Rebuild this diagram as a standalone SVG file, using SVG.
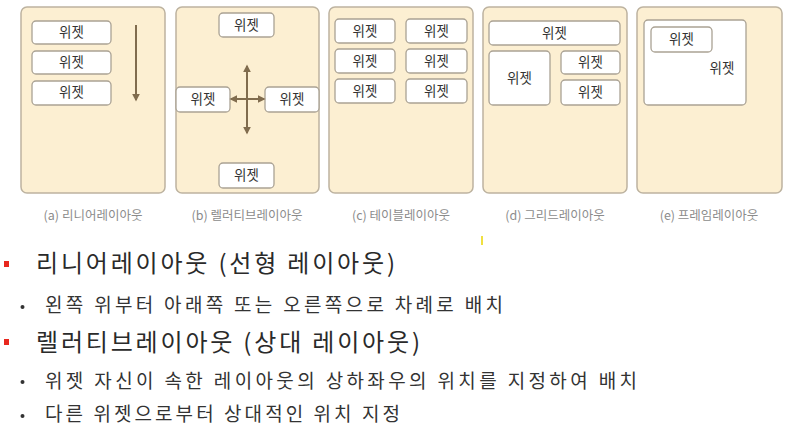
<svg xmlns="http://www.w3.org/2000/svg" width="790" height="438" viewBox="0 0 790 438">
<style>
.panel{fill:#fcefd2;stroke:#bdb3a0;stroke-width:1.5}
.w{fill:#ffffff;stroke:#aaa294;stroke-width:1.3}
.wt{font-family:"Noto Sans CJK KR","Noto Sans",sans-serif;font-size:13.5px;fill:#333333;text-anchor:middle}
.cap{font-family:"Noto Sans CJK KR","Noto Sans",sans-serif;font-size:12.5px;fill:#8c8c8c;text-anchor:middle}
.arr{stroke:#806c4e;stroke-width:2;fill:none}
.h1{font-family:"Noto Sans CJK KR","Noto Sans",sans-serif;font-size:24px;fill:#2a2a2a}
.h2{font-family:"Noto Sans CJK KR","Noto Sans",sans-serif;font-size:19px;fill:#333333}
.rb{fill:#e8281e}
.dot{fill:#333333}
</style>
<defs>
<marker id="ah" viewBox="0 0 10 10" refX="8" refY="5" markerWidth="4" markerHeight="4" orient="auto-start-reverse">
<path d="M0,0 L10,5 L0,10 z" fill="#806c4e"/>
</marker>
</defs>
<rect width="790" height="438" fill="#ffffff"/>

<g id="panel-a">
<rect class="panel" x="21" y="7" width="144" height="186" rx="6"/>
<rect class="w" x="32" y="21" width="79" height="23" rx="4"/><text class="wt" x="71.5" y="37">위젯</text>
<rect class="w" x="32" y="51" width="79" height="23" rx="4"/><text class="wt" x="71.5" y="67">위젯</text>
<rect class="w" x="32" y="81" width="79" height="24" rx="4"/><text class="wt" x="71.5" y="97">위젯</text>
<text class="cap" x="93" y="220">(a) 리니어레이아웃</text>
</g>

<g id="panel-b">
<rect class="panel" x="176" y="7" width="143" height="186" rx="6"/>
<rect class="w" x="219" y="13" width="55" height="24" rx="4"/><text class="wt" x="246.5" y="30">위젯</text>
<rect class="w" x="176" y="87" width="54" height="25" rx="4"/><text class="wt" x="203" y="104">위젯</text>
<rect class="w" x="265" y="87" width="54" height="25" rx="4"/><text class="wt" x="292" y="104">위젯</text>
<rect class="w" x="219" y="163" width="55" height="25" rx="4"/><text class="wt" x="246.5" y="180">위젯</text>
<text class="cap" x="247" y="220">(b) 렐러티브레이아웃</text>
</g>

<g id="panel-c">
<rect class="panel" x="329" y="7" width="144" height="186" rx="6"/>
<rect class="w" x="335" y="19" width="60" height="24" rx="4"/><text class="wt" x="365" y="36">위젯</text>
<rect class="w" x="406" y="19" width="61" height="24" rx="4"/><text class="wt" x="436.5" y="36">위젯</text>
<rect class="w" x="335" y="49" width="60" height="24" rx="4"/><text class="wt" x="365" y="66">위젯</text>
<rect class="w" x="406" y="49" width="61" height="24" rx="4"/><text class="wt" x="436.5" y="66">위젯</text>
<rect class="w" x="335" y="79" width="60" height="24" rx="4"/><text class="wt" x="365" y="96">위젯</text>
<rect class="w" x="406" y="79" width="61" height="24" rx="4"/><text class="wt" x="436.5" y="96">위젯</text>
<text class="cap" x="401" y="220">(c) 테이블레이아웃</text>
</g>

<g id="panel-d">
<rect class="panel" x="483" y="7" width="144" height="186" rx="6"/>
<rect class="w" x="489" y="21" width="131" height="24" rx="4"/><text class="wt" x="554.5" y="38">위젯</text>
<rect class="w" x="489" y="51" width="61" height="54" rx="4"/><text class="wt" x="519.5" y="83">위젯</text>
<rect class="w" x="561" y="51" width="59" height="23" rx="4"/><text class="wt" x="590.5" y="67">위젯</text>
<rect class="w" x="561" y="80" width="59" height="25" rx="4"/><text class="wt" x="590.5" y="97">위젯</text>
<text class="cap" x="555" y="220">(d) 그리드레이아웃</text>
</g>

<g id="panel-e">
<rect class="panel" x="637" y="7" width="145" height="186" rx="6"/>
<rect class="w" x="644" y="20" width="102" height="85" rx="4"/><text class="wt" x="722" y="73">위젯</text>
<rect class="w" x="651" y="27" width="61" height="25" rx="4"/><text class="wt" x="681.5" y="44">위젯</text>
<text class="cap" x="709" y="220">(e) 프레임레이아웃</text>
</g>

<g id="connectors">
<line class="arr" x1="136" y1="25" x2="136" y2="100" marker-end="url(#ah)"/>
<line class="arr" x1="247" y1="66" x2="247" y2="133" marker-start="url(#ah)" marker-end="url(#ah)"/>
<line class="arr" x1="231" y1="99" x2="264" y2="99" marker-start="url(#ah)" marker-end="url(#ah)"/>
</g>

<g id="text-list">
<rect x="481" y="236" width="2" height="9" fill="#f0e040"/>
<rect class="rb" x="4" y="261" width="5" height="6"/>
<text class="h1" x="36" y="272" textLength="359" lengthAdjust="spacing">리니어레이아웃 (선형 레이아웃)</text>
<circle class="dot" cx="22.5" cy="307" r="2"/>
<text class="h2" x="45" y="312" textLength="458" lengthAdjust="spacing">왼쪽 위부터 아래쪽 또는 오른쪽으로 차례로 배치</text>
<rect class="rb" x="4" y="339" width="5" height="6"/>
<text class="h1" x="36" y="351" textLength="384" lengthAdjust="spacing">렐러티브레이아웃 (상대 레이아웃)</text>
<circle class="dot" cx="22.5" cy="382" r="2"/>
<text class="h2" x="45" y="388" textLength="592" lengthAdjust="spacing">위젯 자신이 속한 레이아웃의 상하좌우의 위치를 지정하여 배치</text>
<circle class="dot" cx="22.5" cy="416" r="2"/>
<text class="h2" x="45" y="421" textLength="355" lengthAdjust="spacing">다른 위젯으로부터 상대적인 위치 지정</text>
</g>
</svg>
